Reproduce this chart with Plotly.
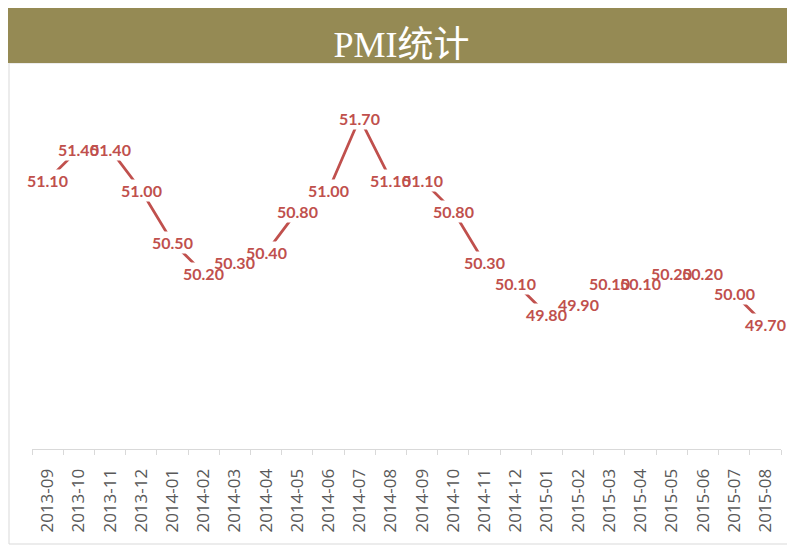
import plotly.graph_objects as go

months = ["2013-09", "2013-10", "2013-11", "2013-12", "2014-01", "2014-02", "2014-03", "2014-04",
          "2014-05", "2014-06", "2014-07", "2014-08", "2014-09", "2014-10", "2014-11", "2014-12",
          "2015-01", "2015-02", "2015-03", "2015-04", "2015-05", "2015-06", "2015-07", "2015-08"]
pmi = [51.1, 51.4, 51.4, 51.0, 50.5, 50.2, 50.3, 50.4,
       50.8, 51.0, 51.7, 51.1, 51.1, 50.8, 50.3, 50.1,
       49.8, 49.9, 50.1, 50.1, 50.2, 50.2, 50.0, 49.7]
title_text = "PMI统计"

RED = "#C0504D"
# page body has an 8px margin; the figure itself is sized to fill the rest
W, H = 787, 537
L, R, T, B = 24, 14, 79, 96
pw, ph = W - L - R, H - T - B


def px_x(p):
    return (p - L) / pw


def px_y(p):
    return (H - B - p) / ph


fig = go.Figure()
fig.add_trace(go.Scatter(x=months, y=pmi, mode="lines",
                         line=dict(color=RED, width=2.8), hoverinfo="skip"))

label_font = dict(family="Lato", size=16, color=RED, weight="bold")
# white boxes first (hide the line under each label) ...
for m, v in zip(months, pmi):
    fig.add_annotation(x=m, y=v, text="&nbsp;", showarrow=False,
                       bgcolor="white", borderpad=2, width=42, height=17,
                       font=dict(family="Lato", size=16))
# ... then the label texts, so overlapping labels show through each other
for m, v in zip(months, pmi):
    fig.add_annotation(x=m, y=v, text=f"{v:.2f}", showarrow=False,
                       borderpad=2, font=label_font)

shapes = [
    dict(type="rect", xref="paper", yref="paper",
         x0=px_x(1), x1=px_x(787), y0=px_y(536), y1=px_y(55),
         line=dict(color="#D9D9D9", width=1), fillcolor="rgba(0,0,0,0)", layer="below"),
    dict(type="rect", xref="paper", yref="paper",
         x0=px_x(-1), x1=px_x(788), y0=px_y(55), y1=px_y(-1),
         line=dict(width=0), fillcolor="#958A54", layer="below"),
]

fig.update_layout(
    width=W, height=H,
    margin=dict(l=L, r=R, t=T, b=B),
    paper_bgcolor="white", plot_bgcolor="white",
    showlegend=False,
    shapes=shapes,
    title=dict(text=title_text, x=(401.5 - 8) / W, xanchor="center", y=1 - 36 / H, yanchor="middle",
               font=dict(family="Liberation Serif, Noto Sans CJK SC", size=36, color="white")),
    xaxis=dict(type="category", range=[-0.5, len(months) - 0.5], showline=True,
               linecolor="#D9D9D9", linewidth=1, ticks="outside", tickson="boundaries",
               ticklen=5, tickcolor="#D9D9D9", tickangle=-90, showgrid=False,
               ticklabelstandoff=12,
               tickfont=dict(family="Open Sans", size=17, color="#595959")),
    yaxis=dict(range=[48.5, 52.0], visible=False, showgrid=False, zeroline=False),
)

fig.write_html("out.html")
